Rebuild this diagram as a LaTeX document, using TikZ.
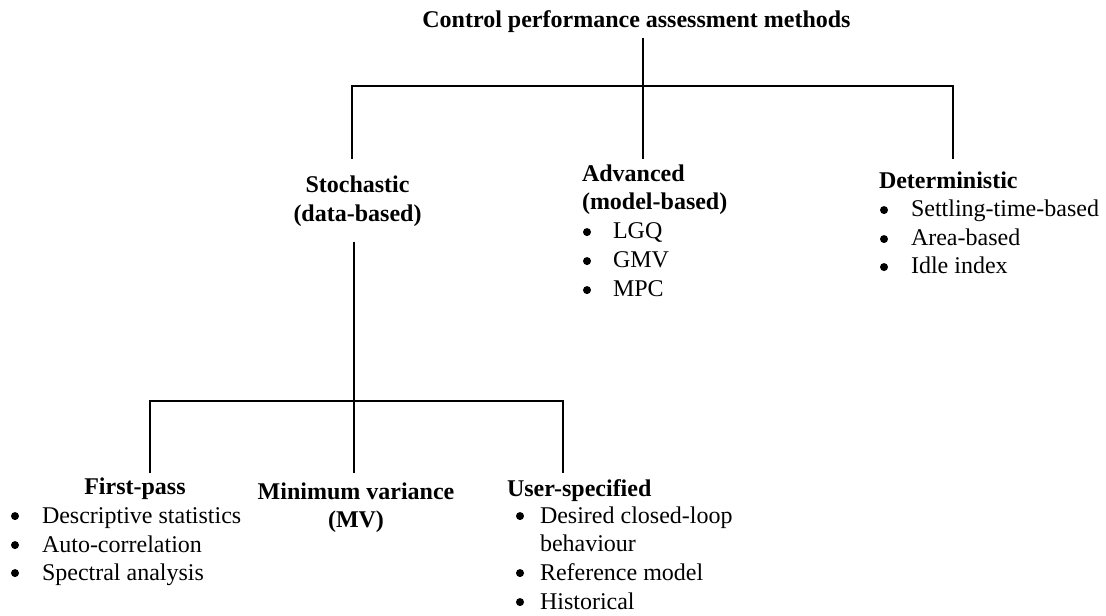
\documentclass[tikz,border=0pt]{standalone}
\usepackage{fontspec}
\setmainfont{Liberation Serif}
\begin{document}
\begin{tikzpicture}[x=0.75pt,y=-0.75pt,
  txt/.style={font=\fontsize{18}{21.5}\selectfont, inner sep=0pt, outer sep=0pt},
  head/.style={txt, font=\fontsize{18}{21.5}\selectfont\bfseries},
  item/.style={txt, anchor=base west},
  dot/.style={circle, fill=black, inner sep=0pt, minimum size=6pt, yshift=5.2pt},
  branch/.style={line width=1.1pt, black}]
\useasboundingbox (0,0) rectangle (1106,616);

% root
\node[head, anchor=base] (title) at (636.5,28) {Control performance assessment methods};

% first level
\node[head, anchor=base] (stochA) at (357.5,193) {Stochastic};
\node[head, anchor=base] (stochB) at (357.5,222) {(data-based)};

\node[head, anchor=base west] (advA) at (582,182) {Advanced};
\node[head, anchor=base west] (advB) at (582,210) {(model-based)};
\node[dot]  (advd1) at (587,239) {};
\node[item] (adv1)  at (613,239) {LGQ};
\node[dot]  (advd2) at (587,268) {};
\node[item] (adv2)  at (613,268) {GMV};
\node[dot]  (advd3) at (587,297) {};
\node[item] (adv3)  at (613,297) {MPC};

\node[head, anchor=base west] (det) at (879,189) {Deterministic};
\node[dot]  (detd1) at (884,217) {};
\node[item] (det1)  at (911,217) {Settling-time-based};
\node[dot]  (detd2) at (884,246) {};
\node[item] (det2)  at (911,246) {Area-based};
\node[dot]  (detd3) at (884,274) {};
\node[item] (det3)  at (911,274) {Idle index};

% second level (under stochastic)
\node[head, anchor=base] (fp) at (135,494) {First-pass};
\node[dot]  (fpd1) at (15,523) {};
\node[item] (fp1)  at (42,523) {Descriptive statistics};
\node[dot]  (fpd2) at (15,552) {};
\node[item] (fp2)  at (42,552) {Auto-correlation};
\node[dot]  (fpd3) at (15,580) {};
\node[item] (fp3)  at (42,580) {Spectral analysis};

\node[head, anchor=base] (mvA) at (356,499) {Minimum variance};
\node[head, anchor=base] (mvB) at (356,527) {(MV)};

\node[head, anchor=base west] (us) at (507,496) {User-specified};
\node[dot]  (usd1) at (520,523) {};
\node[item] (us1)  at (540,523) {Desired closed-loop};
\node[item] (us1b) at (540,551.5) {behaviour};
\node[dot]  (usd2) at (520,580) {};
\node[item] (us2)  at (540,580) {Reference model};
\node[dot]  (usd3) at (520,609) {};
\node[item] (us3)  at (540,609) {Historical};

% tree connectors
\coordinate (rootS) at (643,38);
\coordinate (hub)   at (643,86);
\coordinate (sT)    at (352,159);
\coordinate (aT)    at (643,159);
\coordinate (dT)    at (953,159);
\draw[branch] (rootS) -- (aT);
\draw[branch] (sT) |- (hub) -| (dT);

\coordinate (sB)   at (354,242);
\coordinate (hub2) at (354,401);
\coordinate (fT)   at (150,473);
\coordinate (mT)   at (354,473);
\coordinate (uT)   at (563,473);
\draw[branch] (sB) -- (mT);
\draw[branch] (fT) |- (hub2) -| (uT);
\end{tikzpicture}
\end{document}
